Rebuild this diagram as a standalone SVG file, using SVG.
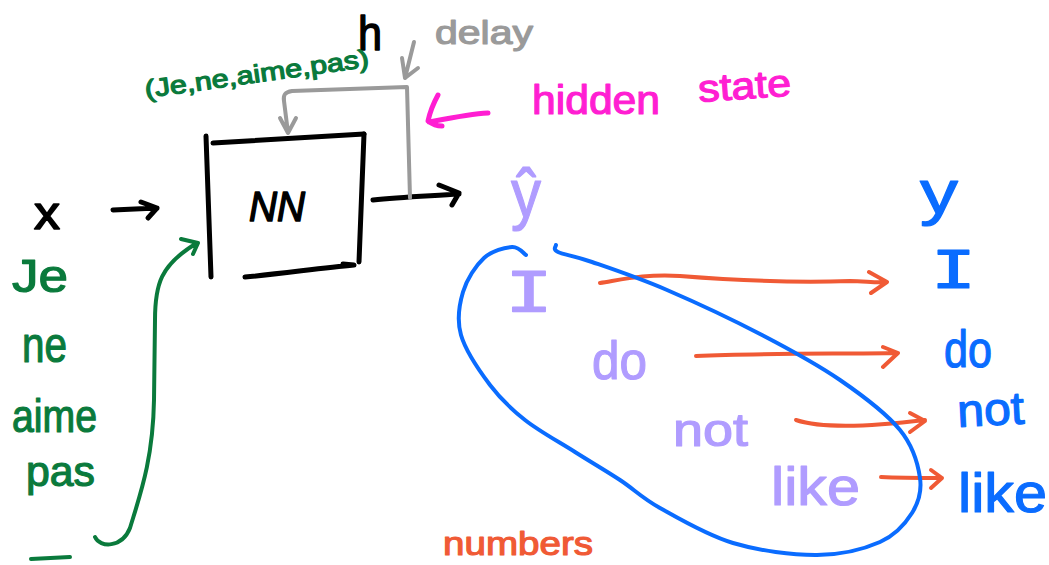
<svg xmlns="http://www.w3.org/2000/svg" width="1049" height="565" viewBox="0 0 1049 565">
  <style>
    .ink { fill: none; stroke-linecap: round; stroke-linejoin: round; }
    .k { stroke: #000000; stroke-width: 5; }
    .g { stroke: #9a9a9a; stroke-width: 4; }
    .gr { stroke: #0a7a3c; stroke-width: 4; }
    .m { stroke: #ff1ed2; stroke-width: 5; }
    .o { stroke: #f05a35; stroke-width: 4; }
    .b { stroke: #0a6cff; stroke-width: 4; }
    text { font-family: "Liberation Sans", "DejaVu Sans", sans-serif; stroke-linejoin: round; }
    .tk { fill: #000000; stroke: #000000; stroke-width: 1.5; }
    .tg { fill: #9a9a9a; stroke: #9a9a9a; stroke-width: 1.2; }
    .tgr { fill: #0a7a3c; stroke: #0a7a3c; stroke-width: 1.2; }
    .tm { fill: #ff1ed2; stroke: #ff1ed2; stroke-width: 1.2; }
    .tl { fill: #b09cff; stroke: #b09cff; stroke-width: 1.2; }
    .tb { fill: #0a6cff; stroke: #0a6cff; stroke-width: 1.2; }
    .to { fill: #f05a35; stroke: #f05a35; stroke-width: 1.2; }
    .mono { font-family: "DejaVu Sans Mono", "Liberation Mono", monospace; }
  </style>

  <!-- recurrent network block -->
  <g id="nn">
    <path class="ink k" d="M206,136 L211,277"/>
    <path class="ink k" d="M213,143 L364,134"/>
    <path class="ink k" d="M364,134 L359,262"/>
    <path class="ink k" d="M245,277 C280,274 320,268 354,265 L343,264"/>
    <text class="tk" x="249" y="221" font-size="42" font-style="italic" textLength="56" lengthAdjust="spacingAndGlyphs">NN</text>
  </g>

  <g id="input-x">
    <text class="tk" x="34" y="229" font-size="46" textLength="26" lengthAdjust="spacingAndGlyphs">x</text>
  </g>

  <g id="hidden-h">
    <text class="tk" x="358" y="50" font-size="48" textLength="24" lengthAdjust="spacingAndGlyphs">h</text>
  </g>

  <g id="delay-label">
    <text class="tg" x="435" y="44" font-size="34" textLength="98" lengthAdjust="spacingAndGlyphs">delay</text>
  </g>

  <g id="sequence-label">
    <text class="tgr" x="146" y="98" font-size="25" textLength="226" lengthAdjust="spacingAndGlyphs" transform="rotate(-8 146 98)">(Je,ne,aime,pas)</text>
  </g>

  <g id="hidden-state-label">
    <text class="tm" x="532" y="114" font-size="40" textLength="128" lengthAdjust="spacingAndGlyphs">hidden</text>
    <text class="tm" x="699" y="102" font-size="38" textLength="93" lengthAdjust="spacingAndGlyphs" transform="rotate(-4 699 102)">state</text>
  </g>

  <!-- French source words -->
  <g id="source-words">
    <text class="tgr" x="12" y="292" font-size="46" textLength="56" lengthAdjust="spacingAndGlyphs">Je</text>
    <text class="tgr" x="22" y="362" font-size="50" textLength="45" lengthAdjust="spacingAndGlyphs">ne</text>
    <text class="tgr" x="12" y="432" font-size="46" textLength="85" lengthAdjust="spacingAndGlyphs">aime</text>
    <text class="tgr" x="26" y="486" font-size="42" textLength="69" lengthAdjust="spacingAndGlyphs">pas</text>
    <path class="ink gr" d="M31,559 L70,557"/>
  </g>

  <!-- predicted outputs -->
  <g id="y-hat">
    <text class="tl" x="511" y="217" font-size="68" textLength="30" lengthAdjust="spacingAndGlyphs">ŷ</text>
  </g>
  <g id="pred-words">
    <text class="tl mono" x="505" y="311" font-size="56" textLength="48" lengthAdjust="spacingAndGlyphs">I</text>
    <text class="tl" x="592" y="379" font-size="54" textLength="55" lengthAdjust="spacingAndGlyphs">do</text>
    <text class="tl" x="673" y="446" font-size="46" textLength="75" lengthAdjust="spacingAndGlyphs">not</text>
    <text class="tl" x="771" y="505" font-size="54" textLength="89" lengthAdjust="spacingAndGlyphs">like</text>
  </g>

  <!-- target outputs -->
  <g id="y-target">
    <text class="tb" x="920" y="213" font-size="62" textLength="38" lengthAdjust="spacingAndGlyphs">y</text>
  </g>
  <g id="target-words">
    <text class="tb mono" x="931" y="288" font-size="52" textLength="45" lengthAdjust="spacingAndGlyphs">I</text>
    <text class="tb" x="944" y="367" font-size="52" textLength="48" lengthAdjust="spacingAndGlyphs">do</text>
    <text class="tb" x="958" y="427" font-size="46" textLength="67" lengthAdjust="spacingAndGlyphs" transform="rotate(-3 958 427)">not</text>
    <text class="tb" x="958" y="512" font-size="56" textLength="89" lengthAdjust="spacingAndGlyphs">like</text>
  </g>

  <g id="numbers-label">
    <text class="to" x="443" y="555" font-size="34" textLength="150" lengthAdjust="spacingAndGlyphs">numbers</text>
  </g>

  <!-- connectors -->
  <g id="connectors">
    <!-- x into block -->
    <path class="ink k" d="M113,210 L157,208 M141,202 L157,208 L148,218"/>
    <!-- block output -->
    <path class="ink k" d="M373,200 C400,197 430,196 459,194 M439,185 L459,193 L452,205"/>
    <!-- hidden state loop back (delay) -->
    <path class="ink g" d="M410,198 L407,87 L292,91 C285,92 283,95 284,101 L288,133 M280,118 L288,133 L296,118"/>
    <path class="ink g" d="M414,42 L405,78 M402,58 L405,78 L418,68"/>
    <!-- hidden state pointer -->
    <path class="ink m" d="M488,113 C470,114 450,118 429,122 M438,95 C433,104 430,112 428,121 C432,124 437,126 442,126"/>
    <!-- sequence fed into block -->
    <path class="ink gr" d="M95,537 C100,548 122,548 130,528 C140,495 153,460 154,400 L155,320 C155,285 160,265 197,243 M181,239 L198,243 L193,254"/>
    <!-- prediction to target -->
    <path class="ink o" d="M600,283 C625,279 645,274 680,276 C730,280 790,283 850,281 C865,281 875,283 887,282 M869,272 L887,282 L871,293"/>
    <path class="ink o" d="M696,356 C760,353 840,354 898,353 M883,347 L898,353 L883,367"/>
    <path class="ink o" d="M796,420 C820,428 860,428 925,420 M910,413 L925,421 L910,432"/>
    <path class="ink o" d="M881,477 C900,478 920,478 942,478 M931,470 L942,478 L931,488"/>
    <!-- loss region around predictions -->
    <path class="ink b" d="M526,255 C523.7,253.7 519,246.5 512,247 C505,247.5 492.2,250.5 484,258 C475.8,265.5 466.8,279.2 463,292 C459.2,304.8 456.5,319.5 461,335 C465.5,350.5 479.3,370.8 490,385 C500.7,399.2 510.8,408.8 525,420 C539.2,431.2 559.2,442 575,452 C590.8,462 605.8,470.7 620,480 C634.2,489.3 641.2,497.5 660,508 C678.8,518.5 706.8,535.2 733,543 C759.2,550.8 792.5,555.2 817,555 C841.5,554.8 864.2,549 880,542 C895.8,535 905.3,523.7 912,513 C918.7,502.3 922,491.8 920,478 C918,464.2 913.3,446.3 900,430 C886.7,413.7 863,395.8 840,380 C817,364.2 790.8,350 762,335 C733.2,320 695.3,302.2 667,290 C638.7,277.8 610.2,268.3 592,262 C573.8,255.7 564,254.8 558,252 C552,249.2 556.3,246.2 556,245"/>
  </g>
</svg>
